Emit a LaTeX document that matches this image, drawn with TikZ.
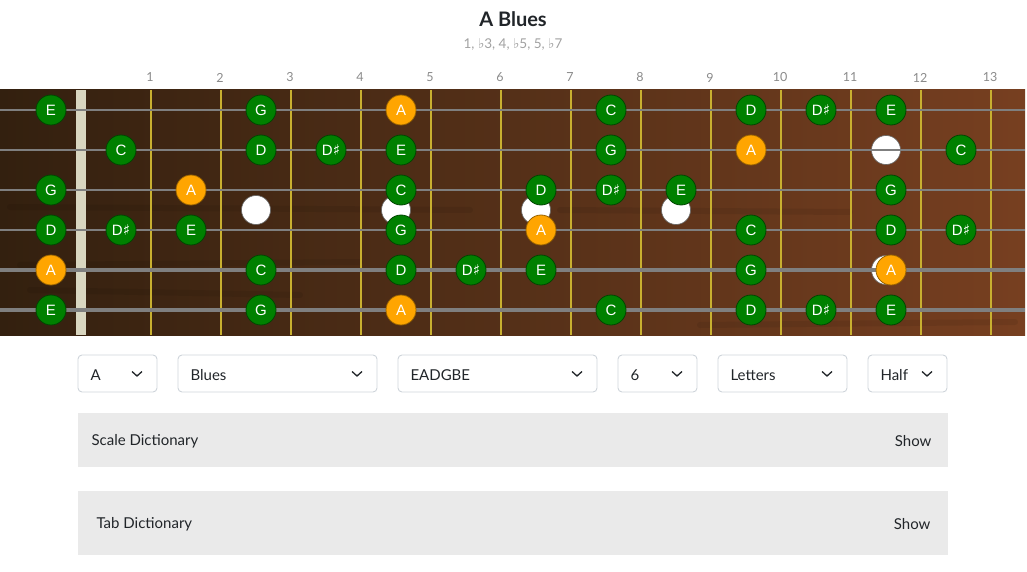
\documentclass[tikz,border=0pt]{standalone}
\usepackage{fontspec}
\setmainfont{Lato}
\newfontfamily\notefont{Liberation Sans}
\newfontfamily\symfont{DejaVu Sans}
\usetikzlibrary{calc}
\usepackage{xcolor}
\definecolor{notegreen}{HTML}{008000}
\definecolor{noteorange}{HTML}{FFA500}
\definecolor{fretgold}{HTML}{C8B030}
\definecolor{nutcream}{HTML}{D9D6C0}
\definecolor{woodleft}{HTML}{33200F}
\definecolor{woodmid}{HTML}{553018}
\definecolor{woodright}{HTML}{773F20}
\definecolor{stringgray}{HTML}{7F7F7F}
\definecolor{boxborder}{HTML}{CED4DA}
\definecolor{panelgray}{HTML}{EAEAEA}
\definecolor{inktext}{HTML}{212529}
\definecolor{softgray}{HTML}{8A8A8A}
\newcommand{\sh}{{\symfont\fontsize{15}{15}\selectfont ♯}}
\newcommand{\fl}{{\symfont ♭}}
\tikzset{
  note/.style={circle,minimum size=30pt,inner sep=0pt,line width=0.8pt,draw=notegreen!55!black,fill=notegreen,text=white,font=\notefont\fontsize{15}{15}\selectfont},
  root/.style={note,fill=noteorange,draw=noteorange!60!black},
  inlay/.style={circle,minimum size=29pt,inner sep=0pt,fill=white,draw=black!60,line width=0.6pt},
  fretnum/.style={text=softgray,font=\fontsize{12.5}{12.5}\selectfont},
  selectbox/.style={draw=boxborder,rounded corners=4pt,line width=0.9pt},
  boxtext/.style={anchor=west,text=inktext,font=\fontsize{15}{15}\selectfont},
  panel/.style={fill=panelgray},
  grain/.style={line width=6pt,black,opacity=0.07,line cap=round},
}

\begin{document}
\begin{tikzpicture}[x=1pt,y=-1pt]
  \useasboundingbox (0,0) rectangle (1027,572);
  % heading
  \node[text=inktext,font=\bfseries\fontsize{20}{20}\selectfont] (title) at (513,19) {A Blues};
  \node[text=softgray!80,font=\fontsize{13.5}{13.5}\selectfont] (formula) at (513,44) {1, \fl3, 4, \fl5, 5, \fl7};
  % fretboard wood
  \shade[left color=woodleft,right color=woodright,middle color=woodmid] (0,90) rectangle (1025,335);
  \draw[grain] (10,207) -- (470,210);
  \draw[grain] (560,210) -- (850,212);
  \draw[grain] (20,265) -- (360,262);
  \draw[grain] (30,290) -- (300,295);
  \draw[grain] (700,325) -- (1015,322);
  \fill[nutcream] (76,90) rectangle (86,335);
  \foreach \f in {1,...,13}{
    \draw[fretgold,line width=1.8pt] ({81+70*\f},90) -- ({81+70*\f},335);
    \node[fretnum] (fn\f) at ({80+70*\f},77.5) {\f};
  }
  % inlays
  \foreach \f in {3,5,7,9}
    \node[inlay] (dot\f) at ({46+70*\f},210) {};
  \node[inlay] (dot12a) at (886,150) {};
  \node[inlay] (dot12b) at (886,270) {};
  % strings
  \foreach \s/\w in {1/1.8,2/2,3/2.4,4/2.8,5/3.4,6/4}
    \draw[stringgray,line width=\w pt] (0,{70+40*\s}) -- (1025,{70+40*\s});
  % notes: string/fret/name/style
  \foreach \s/\f/\n/\st in {
    1/0/E/note,1/3/G/note,1/5/A/root,1/8/C/note,1/10/D/note,1/11/D\sh/note,1/12/E/note,
    2/1/C/note,2/3/D/note,2/4/D\sh/note,2/5/E/note,2/8/G/note,2/10/A/root,2/13/C/note,
    3/0/G/note,3/2/A/root,3/5/C/note,3/7/D/note,3/8/D\sh/note,3/9/E/note,3/12/G/note,
    4/0/D/note,4/1/D\sh/note,4/2/E/note,4/5/G/note,4/7/A/root,4/10/C/note,4/12/D/note,4/13/D\sh/note,
    5/0/A/root,5/3/C/note,5/5/D/note,5/6/D\sh/note,5/7/E/note,5/10/G/note,5/12/A/root,
    6/0/E/note,6/3/G/note,6/5/A/root,6/8/C/note,6/10/D/note,6/11/D\sh/note,6/12/E/note}
    \node[\st] (n\s-\f) at ({51+70*\f},{70+40*\s}) {\n};
  % selects
  \foreach \a/\b/\t/\name in {78/157/A/key,178/377/Blues/scale,398/597/EADGBE/tuning,618/697/6/strings,718/847/Letters/labels,868/947/Half/frets}{
    \draw[selectbox] (\a,355) rectangle (\b,392);
    \node[boxtext] (sel-\name) at ({\a+9},375) {\t};
    \draw[inktext,line width=1.3pt] ({\b-25},371.5) -- ({\b-20},376) -- ({\b-15},371.5);
  }
  % dictionaries
  \fill[panel] (78,413) rectangle (948,467);
  \node[boxtext] (scaledict) at (88,441.5) {Scale Dictionary};
  \node[boxtext,anchor=east] (scaleshow) at (935,441.5) {Show};
  \fill[panel] (78,491) rectangle (948,555);
  \node[boxtext] (tabdict) at (93,524.5) {Tab Dictionary};
  \node[boxtext,anchor=east] (tabshow) at (934,524.5) {Show};
\end{tikzpicture}
\end{document}
